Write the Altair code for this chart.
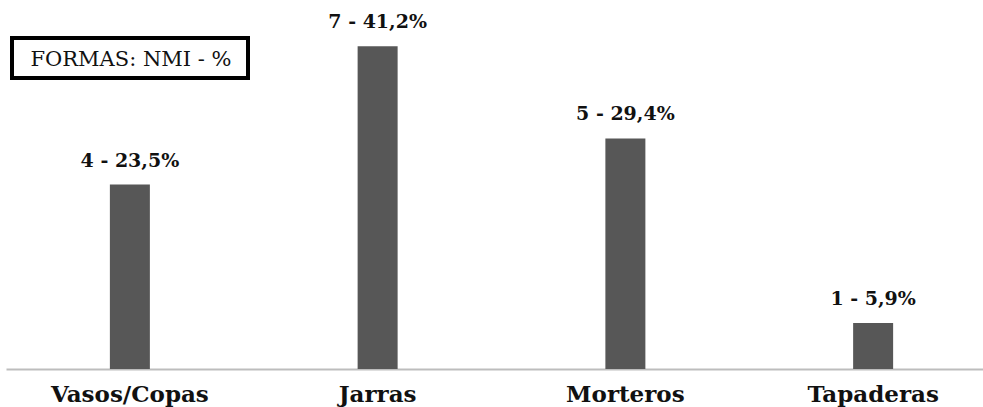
import altair as alt
import pandas as pd

categories = ["Vasos/Copas", "Jarras", "Morteros", "Tapaderas"]
nmi = [4, 7, 5, 1]
percent = [23.5, 41.2, 29.4, 5.9]
box_title = "FORMAS: NMI - %"

df = pd.DataFrame({
    "cat": categories,
    "nmi": nmi,
    "pct": percent,
})
df["label"] = [f"{n} - {str(p).replace('.', ',')}%" for n, p in zip(nmi, percent)]

FONT = "DejaVu Serif"

x = alt.X(
    "cat:N",
    sort=categories,
    scale=alt.Scale(range=[6, 997], paddingInner=0, paddingOuter=0),
    axis=alt.Axis(
        title=None,
        labelAngle=0,
        ticks=False,
        domainColor="#bdbdbd",
        domainWidth=2,
        labelFont=FONT,
        labelFontWeight="bold",
        labelFontSize=23,
        labelColor="#111111",
        labelPadding=14,
    ),
)
y = alt.Y("nmi:Q", scale=alt.Scale(domain=[0, 8]), axis=None)

base = alt.Chart(df)
bars = base.mark_bar(size=40, color="#575757").encode(x=x, y=y)
labels = base.mark_text(
    font=FONT, fontWeight="bold", fontSize=19, dy=-18, baseline="alphabetic", color="#111111"
).encode(x=x, y=y, text="label:N")

one = pd.DataFrame({"t": [box_title]})
box = alt.Chart(one).mark_rect(fill="white", stroke="black", strokeWidth=4).encode(
    x=alt.value(12), x2=alt.value(248), y=alt.value(38), y2=alt.value(78)
)
box_text = alt.Chart(one).mark_text(
    font=FONT, fontSize=21, baseline="alphabetic", align="center", color="#111111"
).encode(x=alt.value(131), y=alt.value(66), text="t:N")

chart = alt.layer(bars, labels, box, box_text).properties(
    width=983, height=369,
    padding={"left": 0, "top": 0, "right": 0, "bottom": 38},
    autosize=alt.AutoSizeParams(type="none"),
    background="white",
).configure_view(stroke=None)

chart.save("out.html", embed_options={"renderer": "svg", "actions": False})
